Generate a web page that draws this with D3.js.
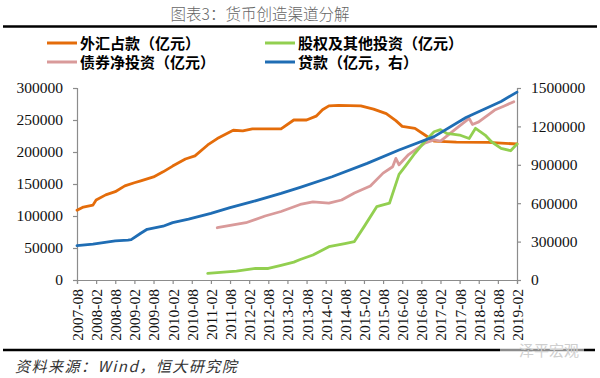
<!DOCTYPE html>
<html><head><meta charset="utf-8">
<script src="https://cdn.jsdelivr.net/npm/d3@7"></script>
<style>
html,body{margin:0;padding:0;background:#fff;}
svg{display:block;}
</style></head>
<body>
<svg id="chart" width="600" height="378"></svg>
<script>
// ---------- data ----------
const titleText = "图表3：货币创造渠道分解";
const sourceText = "资料来源：Wind，恒大研究院";
const watermarkText = "泽平宏观";

const xTickLabels = ["2007-08","2008-02","2008-08","2009-02","2009-08","2010-02","2010-08","2011-02","2011-08","2012-02","2012-08","2013-02","2013-08","2014-02","2014-08","2015-02","2015-08","2016-02","2016-08","2017-02","2017-08","2018-02","2018-08","2019-02"];
const leftTicks = [0,50000,100000,150000,200000,250000,300000];
const rightTicks = [0,300000,600000,900000,1200000,1500000];

const seriesNames = ["外汇占款（亿元）","股权及其他投资（亿元）","债券净投资（亿元）","贷款（亿元，右）"];

// 外汇占款 (left axis)
const fxSeries = [["2007-08",109000],["2007-10",114000],["2008-01",117000],["2008-02",125000],["2008-05",133000],["2008-08",138000],["2008-11",147000],["2009-02",152000],["2009-04",155000],["2009-08",161000],["2009-11",169000],["2010-02",178000],["2010-06",189000],["2010-09",194000],["2011-01",211000],["2011-04",221000],["2011-09",234000],["2011-12",233000],["2012-03",236000],["2012-12",236000],["2013-04",250000],["2013-08",250000],["2013-11",256000],["2014-01",266000],["2014-03",272000],["2014-06",273000],["2015-01",272000],["2015-05",267000],["2015-09",260000],["2015-12",249000],["2016-02",240000],["2016-06",237000],["2016-09",227000],["2016-12",217000],["2017-07",215500],["2018-05",215000],["2019-02",212500]];

// 股权及其他投资 (left axis)
const equitySeries = [["2011-01",10400],["2011-10",14000],["2012-04",18000],["2012-08",18000],["2012-12",23000],["2013-04",28000],["2013-06",32000],["2013-10",39000],["2014-03",52000],["2014-08",57000],["2014-11",60000],["2015-02",83000],["2015-06",114500],["2015-10",120000],["2016-01",165000],["2016-03",178000],["2016-06",198000],["2016-09",216000],["2016-12",231700],["2017-02",235000],["2017-04",229000],["2017-08",226500],["2017-11",221000],["2018-01",237000],["2018-04",226500],["2018-06",216000],["2018-09",205700],["2018-12",202000],["2019-02",212500]];

// 债券净投资 (left axis)
const bondSeries = [["2011-04",81700],["2012-01",89500],["2012-07",100000],["2012-12",107000],["2013-06",118000],["2013-10",122000],["2014-03",120000],["2014-07",125000],["2014-11",136000],["2015-04",147000],["2015-08",167000],["2015-11",177000],["2015-12",190000],["2016-01",180000],["2016-04",196000],["2016-09",213600],["2016-12",219000],["2017-02",217000],["2017-07",237000],["2017-11",252600],["2017-12",243000],["2018-02",247000],["2018-07",265600],["2018-10",272000],["2019-01",278600]];

// 贷款 (right axis)
const loanSeries = [["2007-08",268000],["2008-01",281000],["2008-08",305000],["2008-12",312000],["2009-01",315000],["2009-04",365000],["2009-06",396000],["2009-11",420000],["2010-02",448000],["2010-07",475000],["2011-02",521000],["2011-08",565000],["2012-03",612000],["2012-12",677000],["2013-06",724000],["2014-04",807000],["2015-03",911000],["2016-01",1016000],["2016-12",1120000],["2017-10",1270000],["2018-09",1395000],["2019-02",1468000]];

const colors = ["#E46C0A","#92CF50","#D99A9A","#1F6DB4"];

// ---------- drawing ----------
const svg = d3.select("#chart");
const plot = {left:77, right:517, top:88, bottom:280};
const monthIndex = s => { const [y,m] = s.split("-").map(Number); return (y-2007)*12 + (m-8); };

const x = d3.scaleLinear().domain([0, monthIndex("2019-02")]).range([plot.left, plot.right]);
const yL = d3.scaleLinear().domain([0,300000]).range([plot.bottom, plot.top]);
const yR = d3.scaleLinear().domain([0,1500000]).range([plot.bottom, plot.top]);

// title + rules
svg.append("text").attr("x",260).attr("y",20).attr("text-anchor","middle")
  .style("font-family","'Noto Sans CJK SC'").style("font-weight",300).attr("font-size",15.5).attr("fill","#666")
  .text(titleText);
svg.append("line").attr("x1",3).attr("x2",597).attr("y1",26.5).attr("y2",26.5)
  .attr("stroke","#000").attr("stroke-width",2.5);
svg.append("line").attr("x1",3).attr("x2",595).attr("y1",350).attr("y2",350)
  .attr("stroke","#000").attr("stroke-width",2.5);

// legend
const legendPos = [[47,43],[265,43],[47,62],[265,62]];
seriesNames.forEach((n,i)=>{
  const [lx,ly] = legendPos[i];
  svg.append("line").attr("x1",lx).attr("x2",lx+30).attr("y1",ly).attr("y2",ly)
    .attr("stroke",colors[i]).attr("stroke-width",3);
  svg.append("text").attr("x",lx+33).attr("y",ly+5.5)
    .style("font-family","'Noto Sans CJK SC'").style("font-weight",700).attr("font-size",15).attr("fill","#000")
    .text(n);
});

// axes
const axisColor = "#8c8c8c";
const tickVals = xTickLabels.map(monthIndex);
const xAxis = svg.append("g").attr("transform",`translate(0,${plot.bottom})`)
  .call(d3.axisBottom(x).tickValues(tickVals).tickFormat((d,i)=>xTickLabels[i]).tickSizeOuter(0).tickSize(4));
xAxis.selectAll("text").attr("transform","rotate(-90)").attr("text-anchor","end")
  .attr("x",-9).attr("y",0).attr("dy","0.35em");

const lAxis = svg.append("g").attr("transform",`translate(${plot.left},0)`)
  .call(d3.axisLeft(yL).tickValues(leftTicks).tickFormat(d3.format("d")).tickSizeOuter(0).tickSize(4));
lAxis.selectAll("text").attr("x",-14);
const rAxis = svg.append("g").attr("transform",`translate(${plot.right},0)`)
  .call(d3.axisRight(yR).tickValues(rightTicks).tickFormat(d3.format("d")).tickSizeOuter(0).tickSize(4));
rAxis.selectAll("text").attr("x",14);

[xAxis,lAxis,rAxis].forEach(g=>{
  g.attr("font-family",null);
  g.select(".domain").attr("stroke",axisColor).attr("stroke-width",1.2);
  g.selectAll(".tick line").attr("stroke",axisColor).attr("stroke-width",1.2);
  g.selectAll("text").style("font-family","Liberation Serif").style("font-size","15.5px").attr("fill","#111");
});

// lines
const mk = ys => d3.line().x(d=>x(monthIndex(d[0]))).y(d=>ys(d[1])).curve(d3.curveLinear);
const allSeries = [[fxSeries,yL],[equitySeries,yL],[bondSeries,yL],[loanSeries,yR]];
const drawOrder = [0,2,1,3];
drawOrder.forEach(i=>{
  const [data,ys] = allSeries[i];
  svg.append("path").datum(data).attr("d",mk(ys)).attr("fill","none")
    .attr("stroke",colors[i]).attr("stroke-width",2.8).attr("stroke-linejoin","round").attr("stroke-linecap","round");
});

// source + watermark
svg.append("text").attr("x",15).attr("y",372)
  .style("font-family","'Noto Sans CJK SC'").attr("font-size",15).style("font-style","italic").style("letter-spacing","1.5px").attr("fill","#333")
  .text(sourceText);
svg.append("rect").attr("x",500).attr("y",341).attr("width",84).attr("height",18).attr("fill","#fff").attr("opacity",0.55);
svg.append("text").attr("x",519).attr("y",356)
  .style("font-family","'Noto Sans CJK SC'").attr("font-size",15).attr("fill","#cfcfcf")
  .text(watermarkText);
</script>
</body></html>
